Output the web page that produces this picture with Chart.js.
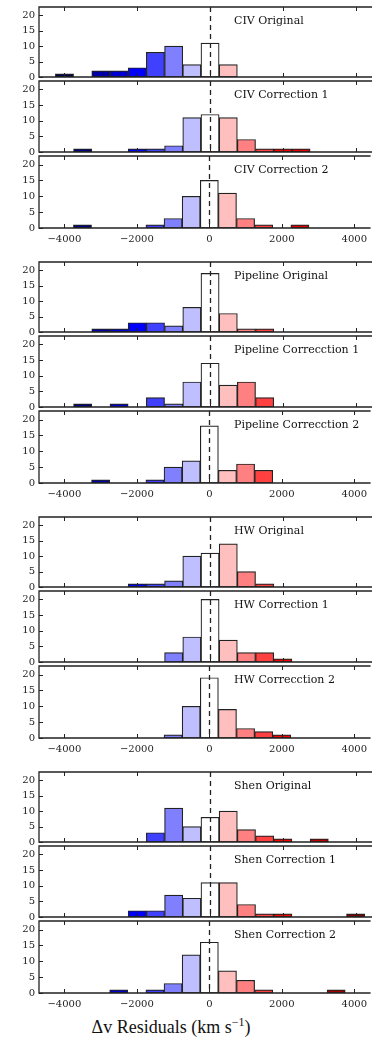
<!DOCTYPE html>
<html>
<head>
<meta charset="utf-8">
<script src="https://cdn.jsdelivr.net/npm/chart.js@4.4.1/dist/chart.umd.min.js"></script>
<style>
  body { margin: 0; background: #fff; width: 372px; height: 1039px; overflow: hidden; position: relative; }
  canvas { position: absolute; left: 0; }
  #xlabel {
    position: absolute; left: 0; width: 342px; top: 1016px; text-align: center;
    font-family: "Liberation Serif", serif; font-size: 18px; color: #111; line-height: 22px;
  }
  #xlabel sup { font-size: 12px; vertical-align: 7px; line-height: 0; }
</style>
</head>
<body>
<div id="xlabel">Δv Residuals (km s<sup>−1</sup>)</div>
<script>
// bin centres (km/s), bins are 500 wide
const bins = [-4000, -3500, -3000, -2500, -2000, -1500, -1000, -500, 0, 500, 1000, 1500, 2000, 2500, 3000, 3500, 4000];
const xTicks = [-4000, -2000, 0, 2000, 4000];
const yTicks = [0, 5, 10, 15, 20];

// counts per bin
const civOriginal   = [1, 0, 2, 2, 3, 8, 10, 4, 11, 4, 0, 0, 0, 0, 0, 0, 0];
const civCorr1      = [0, 1, 0, 0, 1, 1, 2, 11, 12, 11, 4, 1, 1, 1, 0, 0, 0];
const civCorr2      = [0, 1, 0, 0, 0, 1, 3, 10, 15, 11, 3, 1, 0, 1, 0, 0, 0];
const pipeOriginal  = [0, 0, 1, 1, 3, 3, 2, 8, 19, 6, 1, 1, 0, 0, 0, 0, 0];
const pipeCorr1     = [0, 1, 0, 1, 0, 3, 1, 8, 14, 7, 8, 3, 0, 0, 0, 0, 0];
const pipeCorr2     = [0, 0, 1, 0, 0, 1, 5, 7, 18, 4, 6, 4, 0, 0, 0, 0, 0];
const hwOriginal    = [0, 0, 0, 0, 1, 1, 2, 10, 11, 14, 5, 1, 0, 0, 0, 0, 0];
const hwCorr1       = [0, 0, 0, 0, 0, 0, 3, 8, 20, 7, 3, 3, 1, 0, 0, 0, 0];
const hwCorr2       = [0, 0, 0, 0, 0, 0, 1, 10, 19, 9, 3, 2, 1, 0, 0, 0, 0];
const shenOriginal  = [0, 0, 0, 0, 0, 3, 11, 5, 8, 10, 4, 2, 1, 0, 1, 0, 0];
const shenCorr1     = [0, 0, 0, 0, 2, 2, 7, 6, 11, 11, 4, 1, 1, 0, 0, 0, 1];
const shenCorr2     = [0, 0, 0, 1, 0, 1, 3, 12, 16, 7, 4, 1, 0, 0, 0, 1, 0];

const panels = [
  ['CIV Original', civOriginal], ['CIV Correction 1', civCorr1], ['CIV Correction 2', civCorr2],
  ['Pipeline Original', pipeOriginal], ['Pipeline Correcction 1', pipeCorr1], ['Pipeline Correcction 2', pipeCorr2],
  ['HW Original', hwOriginal], ['HW Correction 1', hwCorr1], ['HW Correcction 2', hwCorr2],
  ['Shen Original', shenOriginal], ['Shen Correction 1', shenCorr1], ['Shen Correction 2', shenCorr2]
];

// matplotlib "seismic" colormap over -4000..4000
function seismic(v) {
  const stops = [[0, 0, 77], [0, 0, 255], [255, 255, 255], [255, 0, 0], [128, 0, 0]];
  let t = Math.min(1, Math.max(0, (v + 4000) / 8000)) * 4;
  const i = Math.min(3, Math.floor(t)), f = t - i;
  const a = stops[i], b = stops[i + 1];
  const c = a.map((x, k) => Math.round(x + (b[k] - x) * f));
  return `rgb(${c[0]},${c[1]},${c[2]})`;
}

const frame = {
  id: 'frame',
  afterDatasetsDraw(chart) {
    const { ctx, chartArea: a, scales: { x, y } } = chart;
    ctx.save();
    ctx.strokeStyle = '#222';
    ctx.lineWidth = 1.3;
    // zero line
    ctx.setLineDash([5, 4]);
    const x0 = Math.round(x.getPixelForValue(0)) + 0.5;
    ctx.beginPath(); ctx.moveTo(x0, a.top); ctx.lineTo(x0, a.bottom); ctx.stroke();
    ctx.setLineDash([]);
    // spines
    ctx.beginPath();
    ctx.moveTo(a.right, a.top); ctx.lineTo(a.left, a.top);
    ctx.lineTo(a.left, a.bottom); ctx.lineTo(a.right, a.bottom);
    ctx.stroke();
    // inward ticks
    ctx.lineWidth = 1;
    ctx.beginPath();
    xTicks.forEach(v => {
      const px = Math.round(x.getPixelForValue(v)) + 0.5;
      ctx.moveTo(px, a.top); ctx.lineTo(px, a.top + 4);
      ctx.moveTo(px, a.bottom); ctx.lineTo(px, a.bottom - 4);
    });
    yTicks.forEach(v => {
      const py = Math.round(y.getPixelForValue(v)) + 0.5;
      ctx.moveTo(a.left, py); ctx.lineTo(a.left + 4, py);
    });
    ctx.stroke();
    // panel label
    ctx.fillStyle = '#111';
    ctx.font = '11px "DejaVu Serif"';
    ctx.textBaseline = 'middle';
    ctx.fillText(chart.options.plugins.frame.label, 234, a.top + 14);
    ctx.restore();
  }
};

const fmt = v => v < 0 ? '\u2212' + (-v) : String(v);
const PAD = 8;

panels.forEach(([label, counts], i) => {
  const g = Math.floor(i / 3), k = i % 3;
  const offs = [0, 74, 149], hs = [74, 75, 74];
  const top = 5 + 255 * g + offs[k];
  const h = hs[k];
  const isBottom = k === 2;

  const cv = document.createElement('canvas');
  const H = PAD + h + (isBottom ? 24 : PAD);
  cv.width = 372; cv.height = H;
  cv.style.top = (top - PAD) + 'px';
  document.body.appendChild(cv);

  new Chart(cv, {
    type: 'bar',
    data: {
      datasets: [{
        data: bins.map((b, j) => ({ x: b, y: counts[j] })),
        backgroundColor: bins.map(seismic),
        borderColor: '#222',
        borderWidth: 1.2,
        borderSkipped: false,
        barPercentage: 1,
        categoryPercentage: 1
      }]
    },
    options: {
      responsive: false,
      animation: false,
      devicePixelRatio: 1,
      layout: { padding: { top: PAD, bottom: isBottom ? 4 : PAD, left: 0, right: 0 } },
      plugins: { legend: { display: false }, tooltip: { enabled: false }, frame: { label } },
      scales: {
        x: {
          type: 'linear', min: -4700, max: 4450, offset: false,
          display: isBottom,
          grid: { display: false, drawTicks: false }, border: { display: false },
          afterBuildTicks: s => { s.ticks = xTicks.map(v => ({ value: v })); },
          afterFit: s => { s.height = isBottom ? 20 : 0; },
          ticks: { callback: fmt, autoSkip: false, maxRotation: 0, padding: 5, color: '#222', font: { family: 'DejaVu Serif', size: 10 } }
        },
        y: {
          min: 0, max: 22.7,
          grid: { display: false, drawTicks: false }, border: { display: false },
          afterBuildTicks: s => { s.ticks = yTicks.map(v => ({ value: v })); },
          afterFit: s => { s.width = 39; },
          ticks: { autoSkip: false, padding: 4, color: '#222', font: { family: 'DejaVu Serif', size: 10 } }
        }
      }
    },
    plugins: [frame]
  });
});
</script>
</body>
</html>
